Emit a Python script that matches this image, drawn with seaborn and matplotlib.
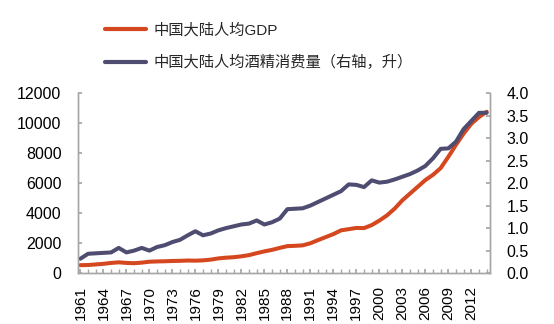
import numpy as np
import pandas as pd
import matplotlib
matplotlib.use("Agg")
import matplotlib.pyplot as plt
import seaborn as sns
from matplotlib.lines import Line2D

years = list(range(1961, 2015))
gdp = [530, 540, 580, 620, 680, 720, 680, 660, 700, 760,
       780, 790, 810, 820, 840, 830, 850, 900, 980, 1030,
       1060, 1120, 1200, 1330, 1450, 1550, 1680, 1800, 1820, 1850,
       1990, 2200, 2400, 2600, 2850, 2930, 3010, 3000, 3200, 3500,
       3850, 4300, 4850, 5300, 5750, 6200, 6550, 7000, 7750, 8550,
       9300, 9950, 10400, 10750]
alcohol = [0.32, 0.43, 0.44, 0.45, 0.46, 0.56, 0.46, 0.50, 0.56, 0.50,
           0.58, 0.62, 0.69, 0.74, 0.84, 0.93, 0.84, 0.88, 0.95, 1.00,
           1.04, 1.08, 1.10, 1.17, 1.08, 1.13, 1.21, 1.42, 1.43, 1.44,
           1.50, 1.58, 1.66, 1.74, 1.82, 1.97, 1.96, 1.91, 2.06, 2.01,
           2.03, 2.08, 2.14, 2.20, 2.28, 2.38, 2.55, 2.76, 2.77, 2.92,
           3.20, 3.38, 3.56, 3.56]
label_gdp = "中国大陆人均GDP"
label_alc = "中国大陆人均酒精消费量（右轴，升）"

df = pd.DataFrame({"year": years, "gdp": gdp, "alcohol": alcohol})

sns.set_theme(style="white")
plt.rcParams['font.family'] = ['Liberation Sans', 'Noto Sans CJK SC', 'DejaVu Sans']

red = "#D4471F"
navy = "#4E4C70"
spine_c = "#A6A6A6"

fig = plt.figure(figsize=(5.54, 3.24), dpi=100)
ax = fig.add_axes([0.141, 0.157, 0.743, 0.556])
ax2 = ax.twinx()

sns.lineplot(data=df, x="year", y="gdp", ax=ax, color=red, linewidth=2.9, zorder=3)
sns.lineplot(data=df, x="year", y="alcohol", ax=ax2, color=navy, linewidth=2.9, zorder=2)

ax.set_xlim(1960.7, 2014.4)
ax.set_ylim(0, 12000)
ax2.set_ylim(0, 4.0)
ax.set_yticks(np.arange(0, 12001, 2000))
ax2.set_yticks(np.arange(0, 4.01, 0.5))
ax2.set_yticklabels([f"{v:.1f}" for v in np.arange(0, 4.01, 0.5)])
ax.set_xticks(years, minor=True)
ax.set_xticks(list(range(1961, 2013, 3)))
ax.set_xticklabels([str(y) for y in range(1961, 2013, 3)], rotation=90)

for a in (ax, ax2):
    a.set_xlabel("")
    a.set_ylabel("")
    a.spines['top'].set_visible(False)
    for s in ('left', 'right', 'bottom'):
        a.spines[s].set_color(spine_c)
        a.spines[s].set_linewidth(1.0)

ax.tick_params(axis='y', direction='in', length=3, color=spine_c, labelsize=11.5, labelcolor='black', left=True, pad=12)
ax2.tick_params(axis='y', direction='in', length=3, color=spine_c, labelsize=11.5, labelcolor='black', right=True, pad=12)
ax.tick_params(axis='x', which='both', direction='in', length=3, color=spine_c, labelsize=11, labelcolor='black', bottom=True, pad=9)

handles = [Line2D([0], [0], color=red, linewidth=3.0),
           Line2D([0], [0], color=navy, linewidth=3.0)]
fig.legend(handles, [label_gdp, label_alc], loc='upper left',
           bbox_to_anchor=(0.165, 0.973), frameon=False, fontsize=11,
           handlelength=2.7, handletextpad=0.45, labelspacing=1.15)

fig.savefig("out.png", dpi=100)
